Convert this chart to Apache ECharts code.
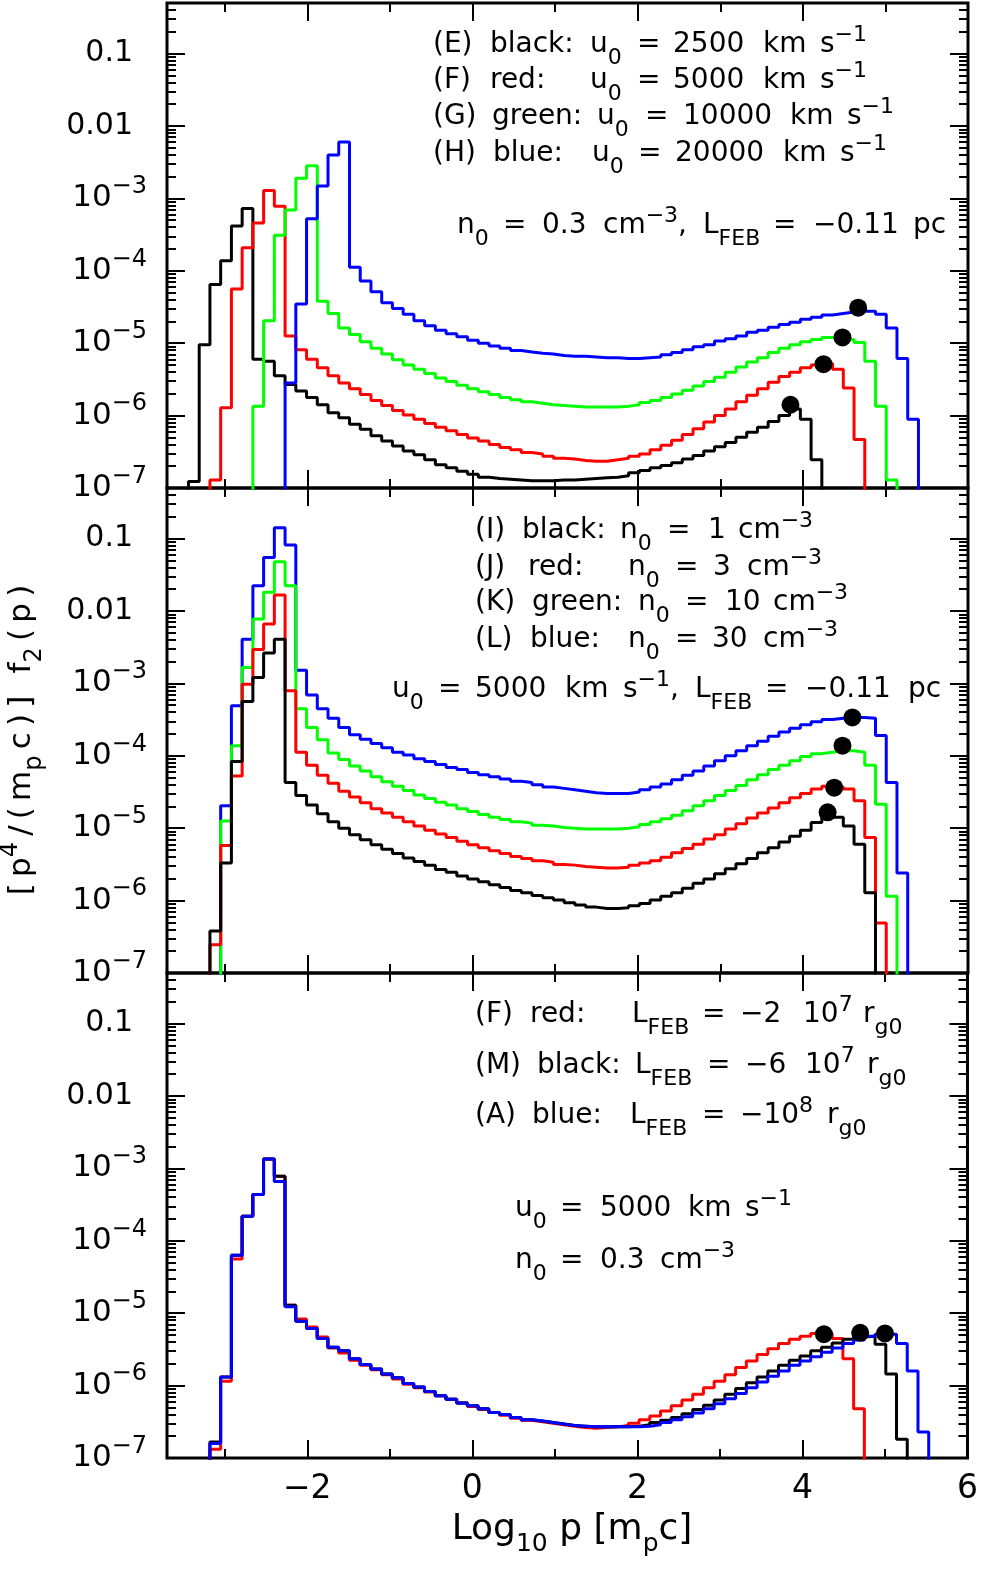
<!DOCTYPE html>
<html>
<head>
<meta charset="utf-8">
<title>f2(p) spectra</title>
<script src="https://cdn.jsdelivr.net/npm/echarts@6/dist/echarts.min.js"></script>
<style>
  html, body { margin: 0; padding: 0; background: #fff; }
  #chart { width: 981px; height: 1574px; }
</style>
</head>
<body>
<div id="chart"></div>
<script>
// histogram bin edges, log10 p [m_p c]
const LOGP_EDGES = [
  -3.70, -3.57, -3.44, -3.31, -3.18, -3.05, -2.92, -2.79, -2.66, -2.53,
  -2.40, -2.27, -2.14, -2.01, -1.88, -1.75, -1.62, -1.49, -1.36, -1.23,
  -1.10, -0.97, -0.84, -0.71, -0.58, -0.45, -0.32, -0.19, -0.06, 0.07,
  0.20, 0.33, 0.46, 0.59, 0.72, 0.85, 0.98, 1.11, 1.24, 1.37,
  1.50, 1.63, 1.76, 1.89, 2.02, 2.15, 2.28, 2.41, 2.54, 2.67,
  2.80, 2.93, 3.06, 3.19, 3.32, 3.45, 3.58, 3.71, 3.84, 3.97,
  4.10, 4.23, 4.36, 4.49, 4.62, 4.75, 4.88, 5.01, 5.14, 5.27,
  5.40, 5.53, 5.66, 5.79, 5.92, 6.05
];

// values are log10 of p^4/(m_p c) f2(p), one per bin, starting at the *_FROM edge

// panel 1: n0 = 0.3 cm^-3, different u0
const P1_BLACK_FROM = -3.44;
const P1_BLACK = [
  -6.91, -5.02, -4.19, -3.86, -3.38, -3.14, -5.22, -5.25, -5.45, -5.57,
  -5.66, -5.75, -5.85, -5.96, -6.03, -6.12, -6.19, -6.28, -6.35, -6.42,
  -6.49, -6.54, -6.61, -6.68, -6.72, -6.77, -6.81, -6.85, -6.87, -6.88,
  -6.89, -6.90, -6.90, -6.90, -6.89, -6.89, -6.88, -6.87, -6.86, -6.85,
  -6.83, -6.79, -6.76, -6.72, -6.69, -6.65, -6.60, -6.55, -6.49, -6.43,
  -6.37, -6.30, -6.23, -6.16, -6.08, -6.00, -5.91, -6.05, -6.61
];
const P1_RED_FROM = -3.18;
const P1_RED = [
  -6.89, -5.89, -4.25, -3.68, -3.34, -2.89, -3.11, -4.90, -5.09, -5.22,
  -5.34, -5.45, -5.55, -5.63, -5.71, -5.79, -5.86, -5.93, -5.99, -6.05,
  -6.11, -6.16, -6.21, -6.26, -6.31, -6.35, -6.40, -6.44, -6.47, -6.51,
  -6.53, -6.56, -6.59, -6.60, -6.62, -6.63, -6.63, -6.61, -6.59, -6.56,
  -6.53, -6.47, -6.41, -6.34, -6.26, -6.18, -6.09, -6.00, -5.91, -5.81,
  -5.72, -5.63, -5.54, -5.46, -5.40, -5.34, -5.30, -5.28, -5.36, -5.62,
  -6.33
];
const P1_GREEN_FROM = -2.66;
const P1_GREEN = [
  -5.87, -4.69, -3.51, -3.16, -2.72, -2.55, -4.42, -4.59, -4.79, -4.88,
  -4.98, -5.07, -5.15, -5.23, -5.30, -5.36, -5.42, -5.48, -5.53, -5.58,
  -5.63, -5.67, -5.71, -5.75, -5.78, -5.81, -5.83, -5.85, -5.86, -5.87,
  -5.88, -5.88, -5.88, -5.88, -5.87, -5.85, -5.82, -5.79, -5.75, -5.70,
  -5.65, -5.59, -5.53, -5.47, -5.40, -5.33, -5.26, -5.20, -5.13, -5.07,
  -5.02, -4.98, -4.95, -4.92, -4.92, -4.95, -4.99, -5.25, -5.87, -6.89
];
const P1_BLUE_FROM = -2.27;
const P1_BLUE = [
  -5.55, -4.46, -3.28, -2.83, -2.40, -2.22, -3.95, -4.14, -4.29, -4.44,
  -4.52, -4.60, -4.69, -4.76, -4.82, -4.87, -4.91, -4.96, -5.00, -5.04,
  -5.07, -5.10, -5.12, -5.14, -5.15, -5.17, -5.18, -5.18, -5.19, -5.20,
  -5.20, -5.21, -5.21, -5.20, -5.19, -5.16, -5.13, -5.09, -5.05, -5.02,
  -4.97, -4.94, -4.90, -4.85, -4.82, -4.78, -4.74, -4.71, -4.67, -4.64,
  -4.61, -4.59, -4.57, -4.56, -4.56, -4.60, -4.79, -5.21, -6.05
];
// black, red, green, blue markers
const P1_DOT_LOGP = [3.85, 4.25, 4.48, 4.67];
const P1_DOT_LOGF = [-5.85, -5.29, -4.92, -4.51];

// panel 2: u0 = 5000 km/s, different n0
const P2_BLACK_FROM = -3.18;
const P2_BLACK = [
  -6.42, -5.48, -4.08, -3.25, -2.92, -2.58, -2.39, -4.37, -4.55, -4.68,
  -4.80, -4.91, -5.00, -5.09, -5.16, -5.23, -5.29, -5.35, -5.41, -5.46,
  -5.51, -5.57, -5.61, -5.66, -5.70, -5.74, -5.78, -5.82, -5.86, -5.89,
  -5.93, -5.96, -5.99, -6.03, -6.06, -6.09, -6.11, -6.11, -6.10, -6.07,
  -6.04, -5.99, -5.94, -5.89, -5.83, -5.76, -5.70, -5.63, -5.56, -5.49,
  -5.42, -5.34, -5.27, -5.19, -5.11, -5.03, -4.92, -4.85, -4.85, -4.97,
  -5.22, -5.89
];
const P2_RED_FROM = -3.18;
const P2_RED = [
  -6.61, -5.24, -4.28, -3.01, -2.53, -2.18, -1.78, -3.10, -3.95, -4.13,
  -4.27, -4.38, -4.49, -4.57, -4.65, -4.73, -4.79, -4.85, -4.91, -4.97,
  -5.03, -5.08, -5.13, -5.18, -5.23, -5.27, -5.31, -5.35, -5.39, -5.42,
  -5.45, -5.47, -5.50, -5.51, -5.53, -5.54, -5.55, -5.55, -5.54, -5.51,
  -5.48, -5.45, -5.40, -5.34, -5.28, -5.22, -5.15, -5.09, -5.01, -4.94,
  -4.86, -4.79, -4.72, -4.65, -4.58, -4.52, -4.46, -4.42, -4.43, -4.46,
  -4.62, -5.13, -6.31
];
const P2_GREEN_FROM = -3.05;
const P2_GREEN = [
  -4.90, -3.86, -2.78, -2.11, -1.74, -1.32, -1.65, -3.35, -3.61, -3.78,
  -3.96, -4.05, -4.14, -4.21, -4.29, -4.36, -4.42, -4.48, -4.54, -4.59,
  -4.64, -4.68, -4.73, -4.77, -4.81, -4.85, -4.88, -4.91, -4.93, -4.96,
  -4.97, -4.99, -5.00, -5.01, -5.01, -5.01, -5.01, -5.00, -4.98, -4.95,
  -4.91, -4.87, -4.82, -4.76, -4.69, -4.62, -4.55, -4.48, -4.41, -4.33,
  -4.26, -4.19, -4.13, -4.07, -4.01, -3.97, -3.95, -3.93, -3.93, -3.95,
  -4.13, -4.67, -5.94
];
const P2_BLUE_FROM = -3.05;
const P2_BLUE = [
  -4.69, -3.31, -2.39, -1.65, -1.26, -0.85, -1.09, -2.82, -3.16, -3.35,
  -3.48, -3.61, -3.71, -3.77, -3.83, -3.89, -3.95, -3.99, -4.04, -4.08,
  -4.12, -4.16, -4.19, -4.23, -4.26, -4.29, -4.32, -4.35, -4.37, -4.40,
  -4.43, -4.45, -4.47, -4.49, -4.51, -4.52, -4.52, -4.52, -4.50, -4.47,
  -4.43, -4.39, -4.33, -4.27, -4.21, -4.14, -4.07, -4.00, -3.93, -3.86,
  -3.80, -3.73, -3.67, -3.62, -3.57, -3.53, -3.50, -3.48, -3.47, -3.47,
  -3.48, -3.72, -4.37, -5.62
];
const P2_DOT_LOGP = [4.30, 4.38, 4.48, 4.60];
const P2_DOT_LOGF = [-4.78, -4.44, -3.86, -3.47];

// panel 3: u0 = 5000 km/s, n0 = 0.3 cm^-3, different L_FEB
const P3_RED_FROM = -3.18;
const P3_RED = [
  -6.88, -5.94, -4.25, -3.66, -3.36, -2.87, -3.11, -4.89, -5.08, -5.19,
  -5.33, -5.48, -5.55, -5.65, -5.72, -5.78, -5.85, -5.91, -5.98, -6.03,
  -6.09, -6.14, -6.19, -6.24, -6.29, -6.33, -6.37, -6.41, -6.45, -6.48,
  -6.50, -6.52, -6.54, -6.56, -6.58, -6.59, -6.58, -6.57, -6.55, -6.52,
  -6.47, -6.42, -6.35, -6.28, -6.20, -6.12, -6.03, -5.94, -5.85, -5.75,
  -5.66, -5.57, -5.49, -5.42, -5.36, -5.32, -5.28, -5.28, -5.35, -5.63,
  -6.32
];
const P3_BLACK_FROM = -3.18;
const P3_BLACK = [
  -6.78, -5.88, -4.20, -3.66, -3.36, -2.87, -3.11, -4.89, -5.11, -5.21,
  -5.35, -5.47, -5.52, -5.63, -5.71, -5.77, -5.84, -5.89, -5.97, -6.02,
  -6.08, -6.14, -6.19, -6.24, -6.28, -6.32, -6.37, -6.40, -6.44, -6.47,
  -6.49, -6.51, -6.53, -6.55, -6.56, -6.57, -6.57, -6.57, -6.57, -6.56,
  -6.54, -6.51, -6.48, -6.44, -6.39, -6.33, -6.27, -6.20, -6.12, -6.04,
  -5.96, -5.88, -5.80, -5.72, -5.65, -5.59, -5.52, -5.47, -5.41, -5.36,
  -5.33, -5.32, -5.43, -5.84, -6.74
];
const P3_BLUE_FROM = -3.18;
const P3_BLUE = [
  -6.80, -5.88, -4.20, -3.66, -3.36, -2.87, -3.18, -4.91, -5.11, -5.21,
  -5.35, -5.47, -5.52, -5.63, -5.71, -5.77, -5.84, -5.89, -5.97, -6.02,
  -6.08, -6.14, -6.19, -6.24, -6.28, -6.32, -6.37, -6.40, -6.44, -6.47,
  -6.49, -6.51, -6.53, -6.55, -6.56, -6.57, -6.57, -6.57, -6.57, -6.57,
  -6.56, -6.54, -6.51, -6.47, -6.43, -6.38, -6.32, -6.25, -6.18, -6.11,
  -6.03, -5.95, -5.87, -5.80, -5.72, -5.66, -5.60, -5.54, -5.48, -5.42,
  -5.37, -5.32, -5.29, -5.29, -5.42, -5.80, -6.64
];
// red, black, blue markers
const P3_DOT_LOGP = [4.26, 4.70, 5.00];
const P3_DOT_LOGF = [-5.29, -5.27, -5.28];

// axes
const X_MIN = -3.7, X_MAX = 6;
const X_MAJOR = [-2, 0, 2, 4, 6];
const X_MINOR = [-3, -1, 1, 3, 5];
const Y_MIN = 1e-7, Y_MAX = 0.5;
const Y_MAJOR = [1e-7, 1e-6, 1e-5, 1e-4, 1e-3, 0.01, 0.1];
const Y_LABELS = ['{b|10}{e|−7}', '{b|10}{e|−6}', '{b|10}{e|−5}', '{b|10}{e|−4}',
                  '{b|10}{e|−3}', '{d|0.01}', '{d|0.1}'];

const FONT = 'DejaVu Sans';
const BLACK = '#000000', RED = '#ff0000', GREEN = '#00ff00', BLUE = '#0000ff';

// log minor ticks 2..9 x 10^n
const Y_MINOR = [];
for (let n = -7; n <= -1; n++) {
  for (let m = 2; m <= 9; m++) {
    const v = m * Math.pow(10, n);
    if (v < Y_MAX) Y_MINOR.push(v);
  }
}

const GRID_TOP = [3, 488, 973];
const GRID_H = 485;

const FLOOR = 1e-9; // below the axis, used for the drops at both ends

function stepData(from, logs) {
  const i0 = LOGP_EDGES.findIndex(e => Math.abs(e - from) < 1e-6);
  const pts = [[LOGP_EDGES[i0 - 1], FLOOR]];
  logs.forEach((v, k) => pts.push([LOGP_EDGES[i0 + k], Math.pow(10, v)]));
  pts.push([LOGP_EDGES[i0 + logs.length], FLOOR]);
  return pts;
}

const PANELS = [
  {
    curves: [[P1_BLACK_FROM, P1_BLACK, BLACK], [P1_RED_FROM, P1_RED, RED],
             [P1_GREEN_FROM, P1_GREEN, GREEN], [P1_BLUE_FROM, P1_BLUE, BLUE]],
    dots: [P1_DOT_LOGP, P1_DOT_LOGF]
  },
  {
    curves: [[P2_BLUE_FROM, P2_BLUE, BLUE], [P2_GREEN_FROM, P2_GREEN, GREEN],
             [P2_RED_FROM, P2_RED, RED], [P2_BLACK_FROM, P2_BLACK, BLACK]],
    dots: [P2_DOT_LOGP, P2_DOT_LOGF]
  },
  {
    curves: [[P3_RED_FROM, P3_RED, RED], [P3_BLACK_FROM, P3_BLACK, BLACK],
             [P3_BLUE_FROM, P3_BLUE, BLUE]],
    dots: [P3_DOT_LOGP, P3_DOT_LOGF]
  }
];

const tickStyle = { color: '#000', width: 2 };

function xAxisDef(p, position, ticks, len, withLabels) {
  return {
    type: 'value', gridIndex: p, min: X_MIN, max: X_MAX, position: position,
    axisLine: { show: false, onZero: false },
    splitLine: { show: false },
    axisTick: { show: true, inside: true, length: len, customValues: ticks, lineStyle: tickStyle },
    axisLabel: withLabels ? {
      show: true, customValues: X_MAJOR, margin: 15, color: '#000',
      fontFamily: FONT, fontSize: 33,
      formatter: v => (v < 0 ? '−' + (-v) : String(v))
    } : { show: false }
  };
}

function yAxisDef(p, position, ticks, len, withLabels) {
  return {
    type: 'log', logBase: 10, gridIndex: p, min: Y_MIN, max: Y_MAX, position: position,
    axisLine: { show: false, onZero: false },
    splitLine: { show: false },
    minorTick: { show: false },
    axisTick: { show: true, inside: true, length: len, customValues: ticks, lineStyle: tickStyle },
    axisLabel: withLabels ? {
      show: true, customValues: Y_MAJOR, margin: 20, color: '#000',
      fontFamily: FONT, fontSize: 30,
      formatter: v => {
        const i = Y_MAJOR.findIndex(m => Math.abs(Math.log10(m) - Math.log10(v)) < 0.01);
        return i < 0 ? '' : Y_LABELS[i];
      },
      rich: {
        b: { fontSize: 31, fontFamily: FONT, color: '#000' },
        e: { fontSize: 24, fontFamily: FONT, color: '#000', padding: [0, 0, 23, 0] },
        d: { fontSize: 30, fontFamily: FONT, color: '#000', padding: [0, 14, 0, 0] }
      }
    } : { show: false }
  };
}

const grids = [], xAxes = [], yAxes = [], series = [];
PANELS.forEach((panel, p) => {
  grids.push({
    left: 167, right: 13, top: GRID_TOP[p], height: GRID_H,
    show: true, borderColor: '#000', borderWidth: 3, backgroundColor: 'transparent'
  });
  xAxes.push(xAxisDef(p, 'bottom', X_MAJOR, 18, p === 2));
  xAxes.push(xAxisDef(p, 'bottom', X_MINOR, 9, false));
  xAxes.push(xAxisDef(p, 'top', X_MAJOR, 18, false));
  xAxes.push(xAxisDef(p, 'top', X_MINOR, 9, false));
  yAxes.push(yAxisDef(p, 'left', Y_MAJOR, 18, true));
  yAxes.push(yAxisDef(p, 'left', Y_MINOR, 9, false));
  yAxes.push(yAxisDef(p, 'right', Y_MAJOR, 18, false));
  yAxes.push(yAxisDef(p, 'right', Y_MINOR, 9, false));

  panel.curves.forEach(([from, logs, color], k) => {
    series.push({
      type: 'line', xAxisIndex: 4 * p, yAxisIndex: 4 * p,
      step: 'end', symbol: 'none', showSymbol: false, silent: true,
      lineStyle: { color: color, width: 3 },
      itemStyle: { color: color },
      z: 3 + k,
      data: stepData(from, logs)
    });
  });
  const [lp, lf] = panel.dots;
  series.push({
    type: 'scatter', xAxisIndex: 4 * p, yAxisIndex: 4 * p,
    symbol: 'circle', symbolSize: 18, silent: true, z: 10,
    itemStyle: { color: '#000', opacity: 1 },
    data: lp.map((x, i) => [x, Math.pow(10, lf[i])])
  });
});

// annotation text, placed word by word
const NOTE_RICH = {
  s: { fontSize: 22, fontFamily: FONT, fill: '#000', padding: [26, 0, 0, 0] },
  p: { fontSize: 22, fontFamily: FONT, fill: '#000', padding: [0, 0, 20, 0] }
};
const NOTES = [
  [45, [[433, '(E)'], [490, 'black:'], [590, 'u{s|0}'], [637, '='], [673, '2500'], [763, 'km'], [820, 's{p|−1}']]],
  [81, [[433, '(F)'], [490, 'red:'], [590, 'u{s|0}'], [637, '='], [673, '5000'], [763, 'km'], [820, 's{p|−1}']]],
  [117, [[433, '(G)'], [492, 'green:'], [597, 'u{s|0}'], [645, '='], [683, '10000'], [790, 'km'], [847, 's{p|−1}']]],
  [154, [[433, '(H)'], [493, 'blue:'], [592, 'u{s|0}'], [638, '='], [675, '20000'], [783, 'km'], [840, 's{p|−1}']]],
  [226, [[457, 'n{s|0}'], [503, '='], [542, '0.3'], [603, 'cm{p|−3},'], [703, 'L{s|FEB}'], [773, '='], [813, '−0.11'], [913, 'pc']]],

  [531, [[475, '(I)'], [522, 'black:'], [620, 'n{s|0}'], [667, '='], [708, '1'], [738, 'cm{p|−3}']]],
  [568, [[475, '(J)'], [528, 'red:'], [628, 'n{s|0}'], [675, '='], [713, '3'], [747, 'cm{p|−3}']]],
  [603, [[475, '(K)'], [532, 'green:'], [638, 'n{s|0}'], [685, '='], [725, '10'], [773, 'cm{p|−3}']]],
  [640, [[475, '(L)'], [530, 'blue:'], [628, 'n{s|0}'], [675, '='], [712, '30'], [763, 'cm{p|−3}']]],
  [690, [[392, 'u{s|0}'], [438, '='], [475, '5000'], [565, 'km'], [623, 's{p|−1},'], [695, 'L{s|FEB}'], [765, '='], [805, '−0.11'], [908, 'pc']]],

  [1015, [[475, '(F)'], [530, 'red:'], [632, 'L{s|FEB}'], [702, '='], [740, '−2'], [803, '10{p|7}'], [863, 'r{s|g0}']]],
  [1066, [[475, '(M)'], [537, 'black:'], [635, 'L{s|FEB}'], [707, '='], [745, '−6'], [805, '10{p|7}'], [867, 'r{s|g0}']]],
  [1116, [[475, '(A)'], [532, 'blue:'], [630, 'L{s|FEB}'], [702, '='], [740, '−10{p|8}'], [827, 'r{s|g0}']]],
  [1209, [[515, 'u{s|0}'], [560, '='], [600, '5000'], [688, 'km'], [745, 's{p|−1}']]],
  [1261, [[515, 'n{s|0}'], [560, '='], [600, '0.3'], [660, 'cm{p|−3}']]]
];

const graphics = [];
NOTES.forEach(([y, segs]) => {
  segs.forEach(([x, text]) => {
    graphics.push({
      type: 'text', x: x, y: y, silent: true,
      style: {
        text: text, fontSize: 28, fontFamily: FONT, fill: '#000',
        align: 'left', verticalAlign: 'middle', rich: NOTE_RICH
      }
    });
  });
});

// axis titles (thin spaces widen the y title like the original lettering)
const T = '\u2009';
graphics.push({
  type: 'text', x: 22, y: 740, rotation: Math.PI / 2, silent: true,
  style: {
    text: '[' + T + 'p{p|4}' + T + '/' + T + '(' + T + 'm{s|p}' + T + 'c' + T + ')' + T + ']' + T + ' ' + T +
          'f{s|2}' + T + '(' + T + 'p' + T + ')',
    fontSize: 31, fontFamily: FONT, fill: '#000',
    align: 'center', verticalAlign: 'middle',
    rich: {
      s: { fontSize: 24, fontFamily: FONT, fill: '#000', padding: [26, 0, 0, 0] },
      p: { fontSize: 24, fontFamily: FONT, fill: '#000', padding: [0, 0, 22, 0] }
    }
  }
});
graphics.push({
  type: 'text', x: 572, y: 1530, silent: true,
  style: {
    text: 'Log{s|10} p [m{s|p}c]', fontSize: 36, fontFamily: FONT, fill: '#000',
    align: 'center', verticalAlign: 'middle',
    rich: { s: { fontSize: 25, fontFamily: FONT, fill: '#000', padding: [28, 0, 0, 0] } }
  }
});

const chart = echarts.init(document.getElementById('chart'), null, { renderer: 'canvas' });
chart.setOption({
  backgroundColor: '#ffffff',
  animation: false,
  textStyle: { fontFamily: FONT },
  grid: grids,
  xAxis: xAxes,
  yAxis: yAxes,
  series: series,
  graphic: graphics
});
</script>
</body>
</html>
